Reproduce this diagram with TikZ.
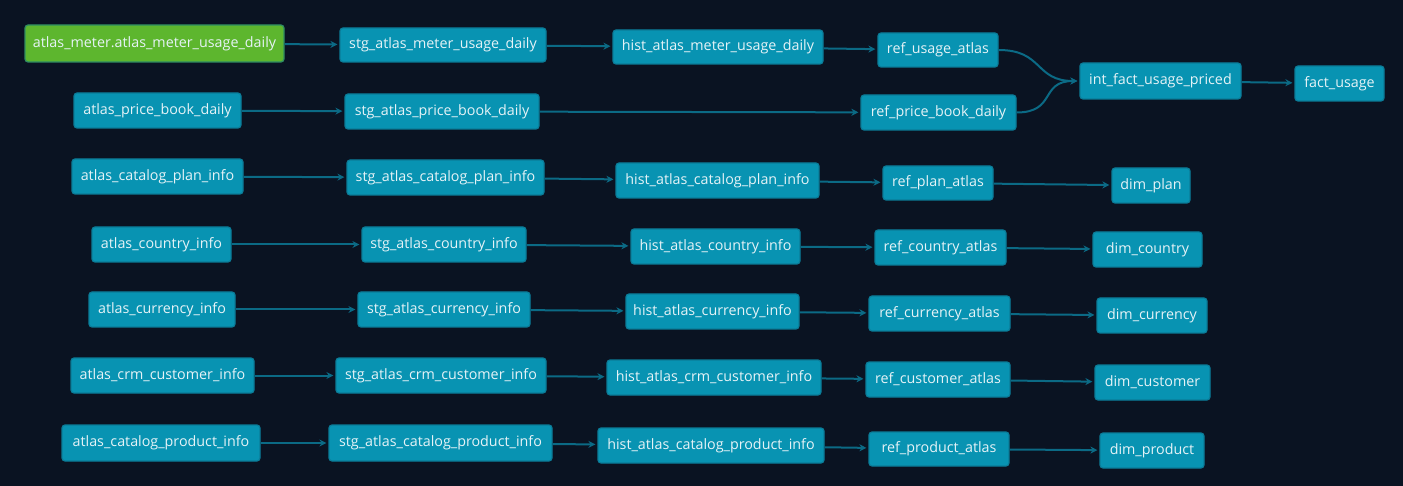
\documentclass[tikz,border=0pt]{standalone}
\usepackage{fontspec}
\setmainfont{Open Sans}
\usetikzlibrary{arrows.meta}
\definecolor{bg}{HTML}{0A1322}
\definecolor{nodefill}{HTML}{0893B2}
\definecolor{nodeline}{HTML}{0B7C98}
\definecolor{edgecol}{HTML}{0B6A85}
\definecolor{srcfill}{HTML}{5DB62E}
\definecolor{srcline}{HTML}{2E8C62}
\definecolor{txt}{HTML}{E6F3F7}
\tikzset{
  model/.style={draw=nodeline, line width=1.2pt, fill=nodefill, rounded corners=3pt,
    text=txt, font=\fontsize{14.3}{15}\selectfont, inner sep=0pt, anchor=center},
  source/.style={model, fill=srcfill, draw=srcline},
  flow/.style={draw=edgecol, line width=2pt, -{Stealth[length=7pt,width=7pt]}, shorten >=2pt},
}
\newcommand{\bx}[7][model]{%
  \node[#1, minimum width={(#5-#3)*1pt}, minimum height={(#6-#4)*1pt}]
    (#2) at ({(#3+#5)/2},{(#4+#6)/2}) {#7};}
\begin{document}
\begin{tikzpicture}[x=1pt,y=-1pt]
\fill[bg] (0,0) rectangle (1403,486);
\useasboundingbox (0,0) rectangle (1403,486);
% row 1
\bx[source]{src1}{25}{25}{284}{62}{atlas\_meter.atlas\_meter\_usage\_daily}
\bx{stg1}{340}{28}{546}{62}{stg\_atlas\_meter\_usage\_daily}
\bx{hist1}{613}{30}{823}{64}{hist\_atlas\_meter\_usage\_daily}
\bx{ref1}{878}{33}{998}{67}{ref\_usage\_atlas}
\bx{int}{1080}{63}{1241}{99}{int\_fact\_usage\_priced}
\bx{fact}{1295}{66}{1384}{101}{fact\_usage}
% row 2
\bx{src2}{74}{93}{241}{128}{atlas\_price\_book\_daily}
\bx{stg2}{345}{94}{539}{129}{stg\_atlas\_price\_book\_daily}
\bx{ref2}{861}{95}{1016}{130}{ref\_price\_book\_daily}
% row 3
\bx{src3}{72}{159}{243}{194}{atlas\_catalog\_plan\_info}
\bx{stg3}{347}{160}{544}{195}{stg\_atlas\_catalog\_plan\_info}
\bx{hist3}{616}{163}{819}{198}{hist\_atlas\_catalog\_plan\_info}
\bx{ref3}{883}{166}{993}{200}{ref\_plan\_atlas}
\bx{dim3}{1112}{168}{1190}{203}{dim\_plan}
% row 4
\bx{src4}{92}{227}{231}{262}{atlas\_country\_info}
\bx{stg4}{362}{227}{526}{262}{stg\_atlas\_country\_info}
\bx{hist4}{631}{229}{800}{264}{hist\_atlas\_country\_info}
\bx{ref4}{875}{230}{1006}{265}{ref\_country\_atlas}
\bx{dim4}{1093}{232}{1202}{267}{dim\_country}
% row 5
\bx{src5}{89}{292}{235}{327}{atlas\_currency\_info}
\bx{stg5}{358}{292}{530}{327}{stg\_atlas\_currency\_info}
\bx{hist5}{626}{294}{799}{329}{hist\_atlas\_currency\_info}
\bx{ref5}{869}{296}{1010}{331}{ref\_currency\_atlas}
\bx{dim5}{1097}{298}{1207}{333}{dim\_currency}
% row 6
\bx{src6}{71}{358}{254}{393}{atlas\_crm\_customer\_info}
\bx{stg6}{336}{358}{546}{393}{stg\_atlas\_crm\_customer\_info}
\bx{hist6}{607}{360}{821}{395}{hist\_atlas\_crm\_customer\_info}
\bx{ref6}{866}{362}{1010}{397}{ref\_customer\_atlas}
\bx{dim6}{1095}{365}{1210}{400}{dim\_customer}
% row 7
\bx{src7}{62}{425}{260}{461}{atlas\_catalog\_product\_info}
\bx{stg7}{329}{425}{552}{461}{stg\_atlas\_catalog\_product\_info}
\bx{hist7}{598}{428}{824}{463}{hist\_atlas\_catalog\_product\_info}
\bx{ref7}{869}{432}{1009}{466}{ref\_product\_atlas}
\bx{dim7}{1100}{433}{1204}{468}{dim\_product}
% edges
\draw[flow] (src1) -- (stg1);
\draw[flow] (stg1) -- (hist1);
\draw[flow] (hist1) -- (ref1);
\draw[flow] (ref1.east) .. controls +(45,0) and +(-45,0) .. (int.west);
\draw[flow] (ref2.east) .. controls +(40,0) and +(-40,0) .. (int.west);
\draw[flow] (int) -- (fact);
\draw[flow] (src2) -- (stg2);
\draw[flow] (stg2) -- (ref2);
\foreach \i in {3,...,7}{
  \draw[flow] (src\i) -- (stg\i);
  \draw[flow] (stg\i) -- (hist\i);
  \draw[flow] (hist\i) -- (ref\i);
  \draw[flow] (ref\i) -- (dim\i);
}
\end{tikzpicture}
\end{document}
